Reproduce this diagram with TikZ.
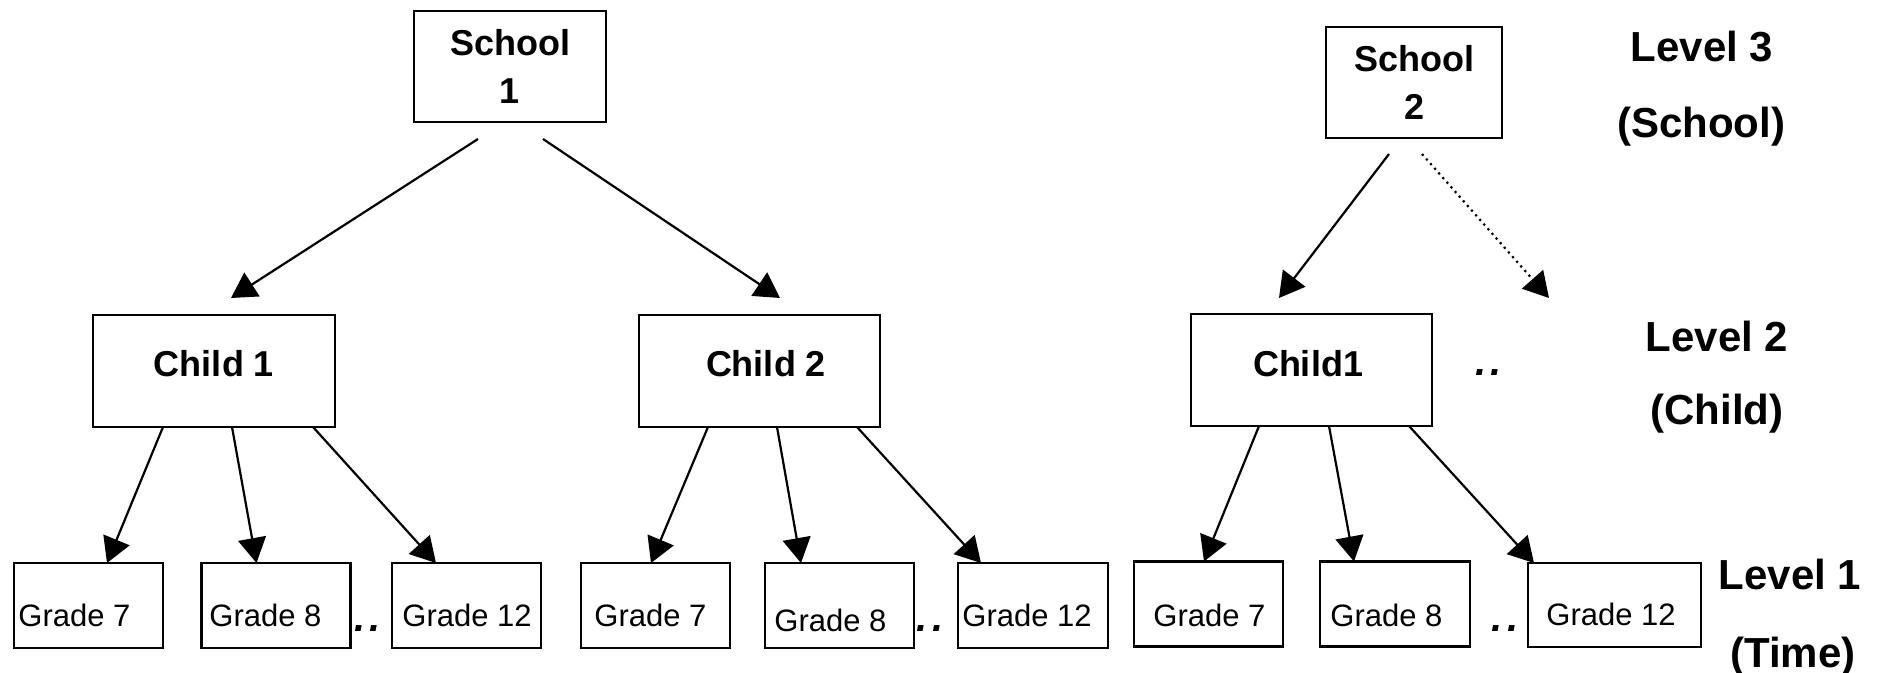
\documentclass[tikz,border=0pt]{standalone}
\usepackage{fontspec}
\setmainfont{Liberation Sans}
\usetikzlibrary{arrows.meta,calc}
\begin{document}
\begin{tikzpicture}[x=0.5pt,y=-0.5pt,
  box/.style={draw, line width=1.1pt, inner sep=0pt, outer sep=0pt},
  bigbox/.style={box, minimum height=56pt},
  gbox/.style={box, minimum width=74.5pt, minimum height=42.5pt},
  btext/.style={font=\fontsize{18}{24}\selectfont\bfseries, align=center},
  gtext/.style={font=\fontsize{15.5}{18}\selectfont, anchor=base west, inner sep=0pt},
  lvl/.style={font=\fontsize{21}{25}\selectfont\bfseries, anchor=base, inner sep=0pt},
  dots/.style={font=\fontsize{20}{22}\selectfont\bfseries\itshape, anchor=base, inner sep=0pt},
  arr/.style={-{Triangle[length=12.5pt,width=14pt]}, line width=1.1pt},
  darr/.style={arr, dotted}]
\useasboundingbox (0,0) rectangle (1881,673);
% schools
\node[box, btext, minimum width=96pt, minimum height=55.5pt] (s1) at (510,66.5) {School\\1};
\node[box, btext, minimum width=88pt, minimum height=55.5pt] (s2) at (1414,82.5) {School\\2};
% children
\node[bigbox, minimum width=121pt] (c1) at (214,371) {};
\node[bigbox, minimum width=120.5pt] (c2) at (759.5,371) {};
\node[bigbox, minimum width=120.5pt] (c3) at (1311.5,370) {};
\node[btext, anchor=base, inner sep=0pt] (c1t) at (214,377) {Child 1};
\node[btext, anchor=base, inner sep=0pt] (c2t) at (766,377) {Child 2};
\node[btext, anchor=base, inner sep=0pt] (c3t) at (1308,377) {Child1};
% grades
\node[gbox] (g11) at (88.5,605.5) {};
\node[gbox] (g12) at (276,605.5) {};
\node[gbox] (g13) at (466.5,605.5) {};
\node[gbox] (g21) at (655.5,605.5) {};
\node[gbox] (g22) at (839.5,605.5) {};
\node[gbox, minimum width=75pt] (g23) at (1033,605.5) {};
\node[gbox] (g31) at (1208.5,604) {};
\node[gbox, minimum width=75pt] (g32) at (1395,604) {};
\node[gbox, minimum width=86.5pt, minimum height=42pt] (g33) at (1614.5,605) {};
\node[gtext] (t11) at (18,626) {Grade 7};
\node[gtext] (t12) at (209,626) {Grade 8};
\node[gtext] (t13) at (402,626) {Grade 12};
\node[gtext] (t21) at (594,626) {Grade 7};
\node[gtext] (t22) at (774,632) {Grade 8};
\node[gtext] (t23) at (962,626) {Grade 12};
\node[gtext] (t31) at (1153,626) {Grade 7};
\node[gtext] (t32) at (1330,626) {Grade 8};
\node[gtext] (t33) at (1546,625) {Grade 12};
% dots
\node[dots] (d1) at (367.5,632) {.\kern2pt.};
\node[dots] (d2) at (930,632) {.\kern2pt.};
\node[dots] (d3) at (1505,632) {.\kern2pt.};
\node[dots] (d4) at (1488.5,376) {.\kern2pt.};
% level labels
\node[lvl] (l3a) at (1702,62) {Level 3};
\node[lvl] (l3b) at (1701,138) {(School)};
\node[lvl] (l2a) at (1717,352) {Level 2};
\node[lvl] (l2b) at (1717,425) {(Child)};
\node[lvl] (l1a) at (1790,590) {Level 1};
\node[lvl] (l1b) at (1793,668) {(Time)};
% school arrows
\coordinate (dotend) at (1549,298);
\draw[arr] ($(s1.south)+(-32,17)$) -- ($(c1.north)+(17,-17)$);
\draw[arr] ($(s1.south)+(33,17)$) -- ($(c2.north)+(20.5,-17)$);
\draw[arr] ($(s2.south)+(-25,16)$) -- ($(c3.north)+(-32.5,-16)$);
\draw[darr] ($(s2.south)+(8,16)$) -- (dotend);
% child arrows
\draw[arr] ($(c1.south west)+(70,0)$) -- ($(g11.north west)+(93,0)$);
\draw[arr] ($(c1.south west)+(139,0)$) -- ($(g12.north west)+(55,0)$);
\draw[arr] ($(c1.south west)+(220,0)$) -- ($(g13.north west)+(44,0)$);
\draw[arr] ($(c2.south west)+(69,0)$) -- ($(g21.north west)+(70,0)$);
\draw[arr] ($(c2.south west)+(138,0)$) -- ($(g22.north west)+(36,0)$);
\draw[arr] ($(c2.south west)+(218,0)$) -- ($(g23.north west)+(23,0)$);
\draw[arr] ($(c3.south west)+(68,0)$) -- ($(g31.north west)+(70,0)$);
\draw[arr] ($(c3.south west)+(138,0)$) -- ($(g32.north west)+(34,0)$);
\draw[arr] ($(c3.south west)+(218,0)$) -- ($(g33.north west)+(6,0)$);
\end{tikzpicture}
\end{document}
